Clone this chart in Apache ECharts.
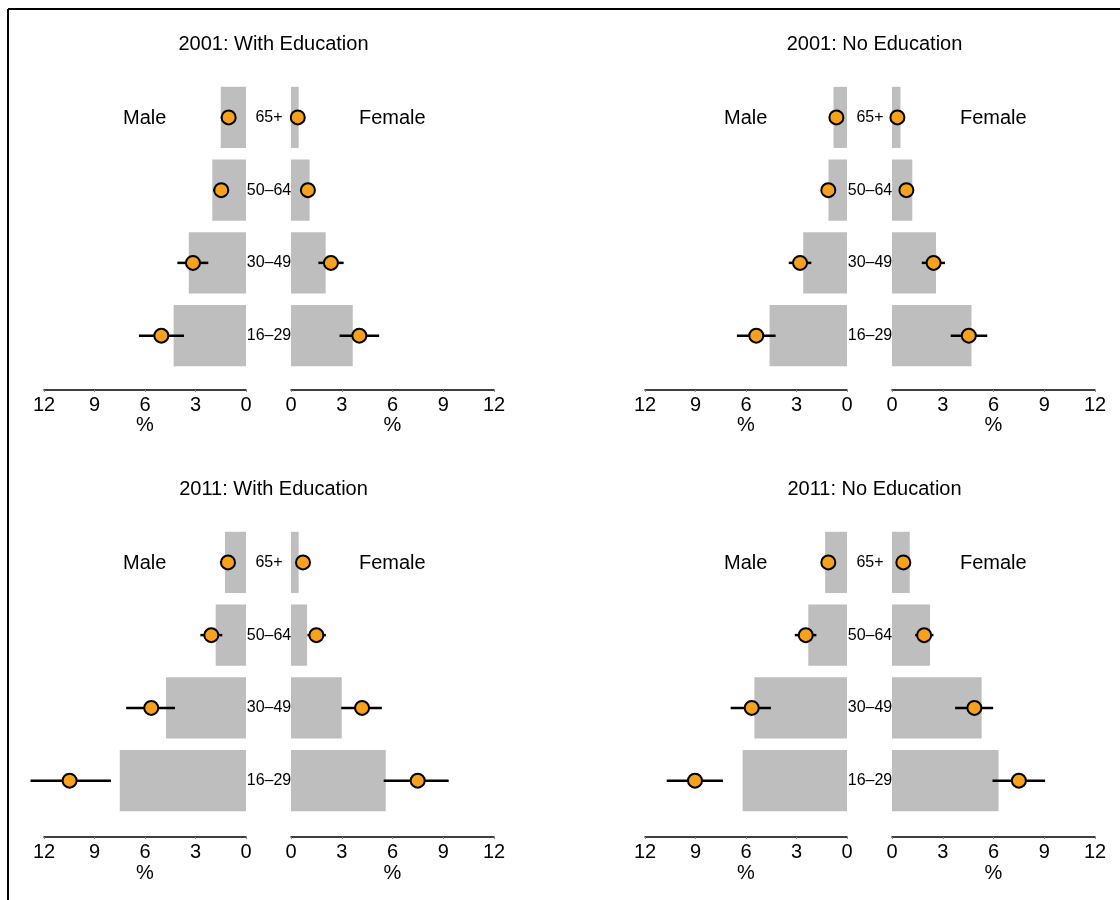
<!DOCTYPE html>
<html>
<head>
<meta charset="utf-8">
<script src="https://cdn.jsdelivr.net/npm/echarts@6/dist/echarts.min.js"></script>
<style>
  html, body { margin: 0; padding: 0; background: #fff; }
  #chart { width: 1120px; height: 900px; }
</style>
</head>
<body>
<div id="chart"></div>
<script>
// age groups, bottom to top
const ageGroups = ['16\u201329', '30\u201349', '50\u201364', '65+'];
const xTicks = [0, 3, 6, 9, 12];

const panelTitles = ['2001: With Education', '2001: No Education', '2011: With Education', '2011: No Education'];

// bars (%)
const maleBars = [
  [4.3, 3.4, 2.0, 1.5],
  [4.6, 2.6, 1.1, 0.8],
  [7.5, 4.75, 1.8, 1.25],
  [6.2, 5.5, 2.3, 1.3]
];
const femaleBars = [
  [3.65, 2.05, 1.1, 0.45],
  [4.7, 2.6, 1.2, 0.5],
  [5.6, 3.0, 0.95, 0.45],
  [6.3, 5.3, 2.25, 1.05]
];

// points (%)
const malePoints = [
  [5.03, 3.15, 1.47, 1.03],
  [5.39, 2.79, 1.11, 0.63],
  [10.48, 5.63, 2.06, 1.07],
  [9.03, 5.66, 2.45, 1.11]
];
const femalePoints = [
  [4.04, 2.36, 1.0, 0.4],
  [4.54, 2.46, 0.85, 0.32],
  [7.49, 4.2, 1.5, 0.71],
  [7.5, 4.87, 1.9, 0.67]
];

// error intervals [low, high]
const maleErr = [
  [[3.68, 6.36], [2.24, 4.08], [1.2, 1.95], [0.8, 1.5]],
  [[4.24, 6.54], [2.12, 3.46], [0.95, 1.3], [0.5, 0.75]],
  [[8.02, 12.8], [4.22, 7.12], [1.41, 2.71], [0.7, 1.55]],
  [[7.37, 10.71], [4.52, 6.91], [1.82, 3.1], [0.95, 1.3]]
];
const femaleErr = [
  [[2.87, 5.21], [1.62, 3.11], [0.85, 1.15], [0.3, 0.5]],
  [[3.47, 5.63], [1.76, 3.13], [0.7, 1.0], [0.2, 0.45]],
  [[5.48, 9.32], [2.97, 5.37], [0.97, 2.06], [0.55, 0.85]],
  [[5.94, 9.05], [3.73, 5.98], [1.37, 2.45], [0.5, 0.8]]
];

const FONT = '"Liberation Sans", Arial, sans-serif';
const BAR = '#BEBEBE';
const DOT = '#F7A11C';

// panel positions
const cols = [{ male: 44, female: 291, mid: 268.5 }, { male: 645, female: 892, mid: 869.5 }];
const rows = [{ top: 81, title: 29, offset: 18, gap: 25 }, { top: 526, title: 474, offset: 20, gap: 26 }];
const plotW = 202, plotH = 291;

const grids = [], xAxes = [], yAxes = [], series = [], titles = [], graphics = [];

function errSeries(idx, errs) {
  return {
    type: 'custom',
    xAxisIndex: idx, yAxisIndex: idx,
    z: 3,
    data: errs.map((e, i) => [e[0], e[1], i]),
    renderItem: function (params, api) {
      const a = api.coord([api.value(0), api.value(2)]);
      const b = api.coord([api.value(1), api.value(2)]);
      return {
        type: 'line',
        shape: { x1: a[0], y1: a[1], x2: b[0], y2: b[1] },
        style: { stroke: '#000', lineWidth: 2.5 }
      };
    }
  };
}

for (let p = 0; p < 4; p++) {
  const c = cols[p % 2], r = rows[Math.floor(p / 2)];
  const sides = [
    { left: c.male, inverse: true, bars: maleBars[p], pts: malePoints[p], err: maleErr[p] },
    { left: c.female, inverse: false, bars: femaleBars[p], pts: femalePoints[p], err: femaleErr[p] }
  ];
  sides.forEach((s, k) => {
    const idx = grids.length;
    grids.push({ left: s.left, top: r.top, width: k ? plotW + 1 : plotW, height: plotH });
    xAxes.push({
      gridIndex: idx, type: 'value', min: 0, max: 12, interval: 3, inverse: s.inverse,
      offset: r.offset,
      name: '%', nameLocation: 'middle', nameGap: r.gap,
      nameTextStyle: { fontFamily: FONT, fontSize: 20, color: '#000' },
      axisLine: { show: true, lineStyle: { color: '#000', width: 1.5 } },
      axisTick: { show: true, length: 2, lineStyle: { color: '#888' } },
      axisLabel: { fontFamily: FONT, fontSize: 20, color: '#000', margin: 5,
        customValues: xTicks },
      splitLine: { show: false }
    });
    yAxes.push({
      gridIndex: idx, type: 'category', data: ageGroups,
      axisLine: { show: false }, axisTick: { show: false },
      axisLabel: k ? { show: true, fontFamily: FONT, fontSize: 16, color: '#000', align: 'center', margin: 22 }
                   : { show: false }
    });
    series.push({
      type: 'bar', xAxisIndex: idx, yAxisIndex: idx, data: s.bars,
      barCategoryGap: '16%', itemStyle: { color: BAR }, silent: true, z: 1
    });
    series.push(errSeries(idx, s.err));
    series.push({
      type: 'scatter', xAxisIndex: idx, yAxisIndex: idx, z: 4,
      data: s.pts.map((v, i) => [v, i]),
      symbol: 'circle', symbolSize: 14,
      itemStyle: { color: DOT, opacity: 1, borderColor: '#000', borderWidth: 2 }
    });
  });
  titles.push({
    text: panelTitles[p], left: c.mid, top: r.title, textAlign: 'center',
    textStyle: { fontFamily: FONT, fontSize: 20, fontWeight: 'normal', color: '#000' }
  });
  const labelY = r.top + 27;
  graphics.push({ type: 'text', left: c.male + 79, top: labelY,
    style: { text: 'Male', font: '20px ' + FONT, fill: '#000' } });
  graphics.push({ type: 'text', left: c.female + 68, top: labelY,
    style: { text: 'Female', font: '20px ' + FONT, fill: '#000' } });
}

// frame on top and left
graphics.push({ type: 'line', shape: { x1: 8, y1: 9, x2: 1120, y2: 9 }, style: { stroke: '#000', lineWidth: 2 } });
graphics.push({ type: 'line', shape: { x1: 8, y1: 9, x2: 8, y2: 900 }, style: { stroke: '#000', lineWidth: 2 } });

const chart = echarts.init(document.getElementById('chart'));
chart.setOption({
  backgroundColor: '#fff',
  animation: false,
  title: titles,
  grid: grids,
  xAxis: xAxes,
  yAxis: yAxes,
  series: series,
  graphic: graphics
});
</script>
</body>
</html>
